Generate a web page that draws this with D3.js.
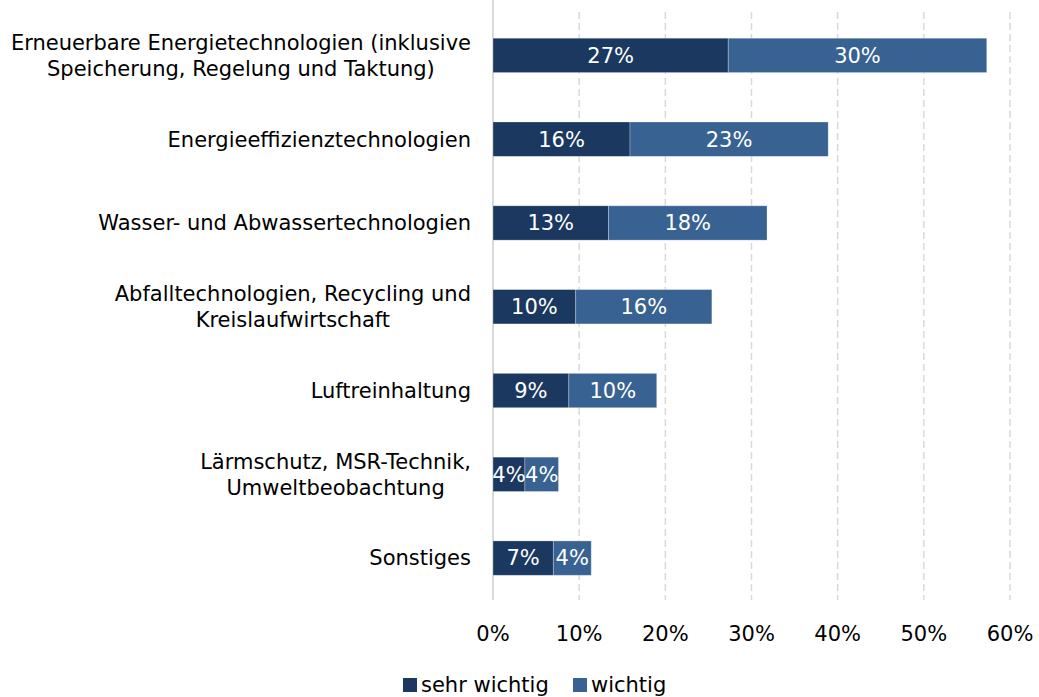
<!DOCTYPE html>
<html lang="de">
<head>
<meta charset="UTF-8">
<title>Umwelttechnologien</title>
<style>
body { margin: 0; background: #fff; }
svg text { font-family: "DejaVu Sans", sans-serif; }
.grid line { stroke: #d9d9d9; stroke-width: 1.5px; stroke-dasharray: 7,4; }
</style>
</head>
<body>
<script src="https://cdnjs.cloudflare.com/ajax/libs/d3/7.8.5/d3.min.js"></script>
<script>
var categories = [
  ["Erneuerbare Energietechnologien (inklusive", "Speicherung, Regelung und Taktung)"],
  ["Energieeffizienztechnologien"],
  ["Wasser- und Abwassertechnologien"],
  ["Abfalltechnologien, Recycling und", "Kreislaufwirtschaft"],
  ["Luftreinhaltung"],
  ["Lärmschutz, MSR-Technik,", "Umweltbeobachtung"],
  ["Sonstiges"]
];
var sehrWichtig = [27.3, 15.9, 13.4, 9.6, 8.8, 3.7, 7.0];
var wichtig     = [30.0, 23.0, 18.4, 15.8, 10.2, 3.9, 4.4];
var seriesNames = ["sehr wichtig", "wichtig"];
var colors = ["#1b3860", "#386291"];
var ticks = [0, 10, 20, 30, 40, 50, 60];

var width = 1039, height = 697, fs = 21;
var svg = d3.select("body").append("svg")
  .attr("width", width).attr("height", height);

var x = d3.scaleLinear().domain([0, 60]).range([493, 1010]);
var y = d3.scaleBand().domain(d3.range(categories.length))
  .range([13.5, 600]).paddingInner(0.59).paddingOuter(0.295);

// gridlines
svg.append("g").attr("class", "grid")
  .selectAll("line").data(ticks.slice(1)).join("line")
  .attr("x1", d => x(d)).attr("x2", d => x(d))
  .attr("y1", 12).attr("y2", 600);

// y axis line
svg.append("line")
  .attr("x1", x(0)).attr("x2", x(0)).attr("y1", 0).attr("y2", 600)
  .attr("stroke", "#d9d9d9").attr("stroke-width", 2);

// x axis tick labels
svg.append("g").selectAll("text").data(ticks).join("text")
  .attr("x", d => x(d)).attr("y", 634).attr("dy", "0.35em")
  .attr("text-anchor", "middle").attr("font-size", fs).attr("fill", "#000")
  .text(d => d + "%");

var stacked = categories.map((c, i) => [
  { s: 0, x0: 0, x1: sehrWichtig[i], v: sehrWichtig[i], i: i },
  { s: 1, x0: sehrWichtig[i], x1: sehrWichtig[i] + wichtig[i], v: wichtig[i], i: i }
]).flat();

svg.append("g").selectAll("rect").data(stacked).join("rect")
  .attr("x", d => x(d.x0)).attr("width", d => x(d.x1) - x(d.x0))
  .attr("y", d => y(d.i)).attr("height", y.bandwidth())
  .attr("fill", d => colors[d.s])
  .attr("stroke", "#ffffff").attr("stroke-opacity", 0.35).attr("stroke-width", 0.8);

svg.append("g").selectAll("text").data(stacked).join("text")
  .attr("x", d => (x(d.x0) + x(d.x1)) / 2)
  .attr("y", d => y(d.i) + y.bandwidth() / 2).attr("dy", "0.35em")
  .attr("text-anchor", "middle").attr("font-size", fs).attr("fill", "#fff")
  .text(d => Math.round(d.v) + "%");

// category labels: block right-aligned at 471, lines centred within block
var lineH = 26, labRight = 471;
var lab = svg.append("g").selectAll("text").data(categories).join("text")
  .attr("font-size", fs).attr("fill", "#000")
  .attr("y", (d, i) => y(i) + y.bandwidth() / 2);
lab.selectAll("tspan").data(d => d.map((t, k) => ({ t: t, k: k, n: d.length }))).join("tspan")
  .attr("dy", d => d.k === 0 ? (-(d.n - 1) * lineH / 2 + 0.35 * fs) + "px" : lineH + "px")
  .text(d => d.t);
lab.each(function () {
  var t = d3.select(this);
  var w = d3.max(t.selectAll("tspan").nodes(), n => n.getComputedTextLength());
  t.attr("text-anchor", "middle");
  t.selectAll("tspan").attr("x", labRight - w / 2);
});

// legend
var leg = svg.append("g");
var legX = [403, 573];
seriesNames.forEach((n, k) => {
  leg.append("rect").attr("x", legX[k]).attr("y", 678).attr("width", 14).attr("height", 14)
    .attr("fill", colors[k]);
  leg.append("text").attr("x", legX[k] + 18).attr("y", 685).attr("dy", "0.35em")
    .attr("font-size", fs).attr("fill", "#000").text(n);
});
</script>
</body>
</html>
